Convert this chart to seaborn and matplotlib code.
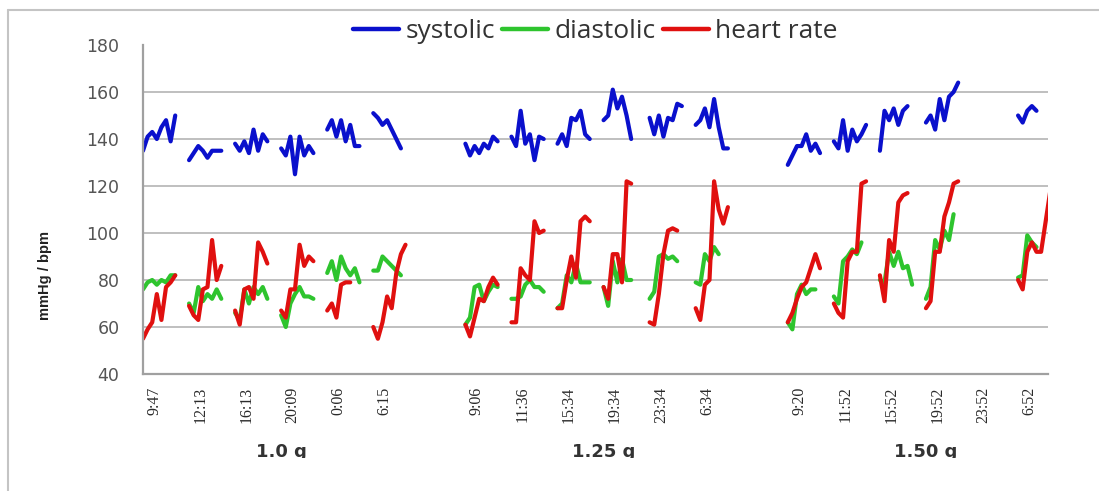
import numpy as np
import pandas as pd
import matplotlib
matplotlib.use("Agg")
import matplotlib.pyplot as plt
import seaborn as sns
from matplotlib.lines import Line2D
from matplotlib.transforms import Bbox, TransformedBbox, blended_transform_factory

# ---------------- data ----------------
session_labels = ["9:47", "12:13", "16:13", "20:09", "0:06", "6:15", "",
                  "9:06", "11:36", "15:34", "19:34", "23:34", "6:34", "",
                  "9:20", "11:52", "15:52", "19:52", "23:52", "6:52"]
dose_labels = ["1.0 g", "1.25 g", "1.50 g"]
dose_first_session = [0, 7, 14]
dose_n_sessions = [6, 6, 6]

systolic = [
    [135, 141, 143, 140, 145, 148, 139, 150],
    [131, 134, 137, 135, 132, 135, 135, 135],
    [138, 135, 139, 134, 144, 135, 142, 139],
    [136, 133, 141, 125, 141, 133, 137, 134],
    [144, 148, 141, 148, 139, 146, 137, 137],
    [151, 149, 146, 148, 144, 140, 136],
    [],
    [138, 133, 137, 134, 138, 136, 141, 139],
    [141, 137, 152, 138, 142, 131, 141, 140],
    [138, 142, 137, 149, 148, 152, 142, 140],
    [148, 150, 161, 153, 158, 150, 140],
    [149, 142, 150, 141, 149, 148, 155, 154],
    [146, 148, 153, 145, 157, 145, 136, 136],
    [],
    [129, 133, 137, 137, 142, 135, 138, 134],
    [139, 136, 148, 135, 144, 139, 142, 146],
    [135, 152, 148, 153, 146, 152, 154],
    [147, 150, 144, 157, 148, 158, 160, 164],
    [],
    [150, 147, 152, 154, 152],
]

diastolic = [
    [76, 79, 80, 78, 80, 79, 82, 82],
    [70, 66, 77, 71, 74, 72, 76, 72],
    [66, 63, 76, 70, 77, 74, 77, 72],
    [65, 60, 70, 74, 77, 73, 73, 72],
    [83, 88, 80, 90, 85, 82, 85, 79],
    [84, 84, 90, 88, 86, 84, 82],
    [],
    [61, 64, 77, 78, 71, 75, 78, 77],
    [72, 72, 73, 78, 80, 77, 77, 75],
    [68, 70, 82, 79, 87, 79, 79, 79],
    [77, 69, 88, 79, 89, 80, 80],
    [72, 75, 90, 91, 89, 90, 88],
    [79, 78, 91, 88, 94, 91],
    [],
    [62, 59, 74, 78, 74, 76, 76],
    [73, 70, 88, 90, 93, 91, 96],
    [80, 79, 92, 86, 92, 85, 86, 78],
    [72, 77, 97, 93, 101, 97, 108],
    [],
    [81, 82, 99, 96, 94],
]

heart_rate = [
    [55, 59, 62, 74, 63, 77, 79, 82],
    [69, 65, 63, 76, 77, 97, 80, 86],
    [67, 61, 76, 77, 72, 96, 92, 87],
    [67, 64, 76, 76, 95, 86, 90, 88],
    [67, 70, 64, 78, 79, 79],
    [60, 55, 62, 73, 68, 83, 91, 95],
    [],
    [61, 56, 64, 72, 71, 77, 81, 78],
    [62, 62, 85, 82, 80, 105, 100, 101],
    [68, 68, 80, 90, 81, 105, 107, 105],
    [77, 72, 91, 91, 79, 122, 121],
    [62, 61, 74, 91, 101, 102, 101],
    [68, 63, 78, 80, 122, 110, 104, 111],
    [],
    [62, 66, 72, 77, 79, 85, 91, 85],
    [70, 66, 64, 88, 92, 92, 121, 122],
    [82, 71, 97, 92, 113, 116, 117],
    [68, 71, 92, 92, 107, 113, 121, 122],
    [],
    [80, 76, 92, 96, 92, 92, 105, 118],
]

series_names = ["systolic", "diastolic", "heart rate"]
series_data = [systolic, diastolic, heart_rate]
colors = {"systolic": "#0a10cc", "diastolic": "#2ec42e", "heart rate": "#e0100f"}

SLOTS = 10  # reading slots per session on the category axis

rows = []
for name, sessions in zip(series_names, series_data):
    for s_idx, vals in enumerate(sessions):
        for j, v in enumerate(vals):
            rows.append({"x": s_idx * SLOTS + j, "value": v,
                         "series": name, "session": f"{name}-{s_idx}"})
df = pd.DataFrame(rows)

# ---------------- plot ----------------
sns.set_style("white")
plt.rcParams["font.family"] = ["Open Sans", "DejaVu Sans"]

W, H = 1099, 491
fig = plt.figure(figsize=(W / 100, H / 100), dpi=100)
ax = fig.add_axes([143 / W, 1 - 374 / H, (1048 - 143) / W, (374 - 45) / H])

sns.lineplot(data=df, x="x", y="value", hue="series", units="session",
             estimator=None, palette=colors, hue_order=series_names,
             linewidth=3.0, legend=False, ax=ax, sort=False)

n_sessions = len(session_labels)
ax.set_xlim(0, 196.5)
ax.set_ylim(40, 180)
ax.set_yticks(range(40, 181, 20))
ax.grid(axis="y", color="#b4b4b4", linewidth=1.2)
ax.set_axisbelow(True)
for gl, t in zip(ax.get_ygridlines(), range(40, 181, 20)):
    if t in (40, 180):
        gl.set_visible(False)

ax.set_xticks([i * SLOTS for i in range(n_sessions)])
ax.set_xticklabels([])
ax.set_xticks([i * SLOTS + 2.5 for i in range(n_sessions)], minor=True)
ax.set_xticklabels(session_labels, minor=True, rotation=90,
                   family="Liberation Serif", fontsize=11.5, color="#2a2a2a")
ax.tick_params(axis="x", which="major", length=4, width=1.2, color="#a0a0a0")
ax.tick_params(axis="x", which="minor", length=0, pad=9)
ax.tick_params(axis="y", length=0, pad=17, labelsize=12.5, labelcolor="#555555")
for lab in ax.get_yticklabels():
    lab.set_family("DejaVu Sans")

ax.set_xlabel("")
ax.set_ylabel("")
for side in ("top", "right"):
    ax.spines[side].set_visible(False)
for side in ("left", "bottom"):
    ax.spines[side].set_color("#a0a0a0")
    ax.spines[side].set_linewidth(1.6)

# group (dose) labels, clipped at the image's lower crop
trans = blended_transform_factory(ax.transData, fig.transFigure)
clip = TransformedBbox(Bbox([[0, 1 - 458 / H], [1, 1]]), fig.transFigure)
for lab, first, n in zip(dose_labels, dose_first_session, dose_n_sessions):
    xc = (first + n / 2) * SLOTS
    t = fig.text(xc, 1 - 452 / H, lab, transform=trans, ha="center", va="center",
                 fontsize=13, fontweight="bold", family="DejaVu Sans",
                 color="#333333")
    t.set_clip_on(True)
    t.set_clip_box(clip)

fig.text(45 / W, 1 - 275 / H, "mmHg / bpm", rotation=90, ha="center", va="center",
         fontsize=10.5, fontweight="bold", family="Liberation Sans", color="#222222")

handles = [Line2D([], [], color=colors[n], lw=3.2) for n in series_names]
ax.legend(handles, series_names, loc="center", bbox_to_anchor=(0.5, 1.04),
          ncol=3, frameon=False, fontsize=19, handlelength=1.75,
          handletextpad=0.25, columnspacing=0.25, borderaxespad=0)
for txt in ax.get_legend().get_texts():
    txt.set_color("#333333")

# outer frame of the screenshot
fig.add_artist(Line2D([8 / W, 1], [1 - 10 / H] * 2, transform=fig.transFigure,
                      color="#c4c4c4", lw=1.5))
fig.add_artist(Line2D([8 / W] * 2, [0, 1 - 10 / H], transform=fig.transFigure,
                      color="#c4c4c4", lw=1.5))

fig.savefig("out.png", dpi=100)
